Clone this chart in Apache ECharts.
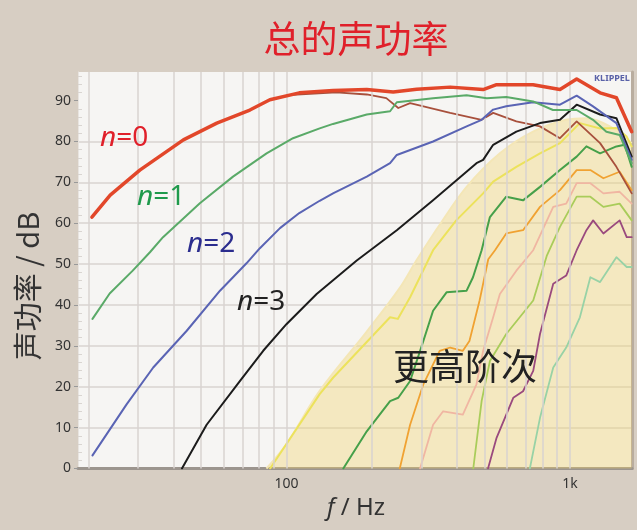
<!DOCTYPE html>
<html>
<head>
<meta charset="utf-8">
<script src="https://cdn.jsdelivr.net/npm/echarts@6/dist/echarts.min.js"></script>
<style>
  html, body { margin: 0; padding: 0; background: #d7cec3; }
  #c { width: 637px; height: 530px; }
</style>
</head>
<body>
<div id="c"></div>
<script>
// Sound power (dB) versus frequency (Hz), one curve per order n. Pairs are [Hz, dB].
const orderN0 = [[20.6,61.5],[23.9,66.9],[30.4,73.0],[43.3,80.4],[56.8,84.5],[74.3,87.7],[87.4,90.2],[111,91.9],[146,92.5],[192,92.7],[238,92.1],[288,92.8],[378,93.3],[494,92.7],[551,93.9],[741,93.9],[922,92.7],[1056,95.3],[1277,91.9],[1458,90.7],[1651,82.4]];
const orderN1 = [[20.7,36.6],[23.8,42.8],[28.7,48.4],[33,52.9],[36.7,56.6],[49.5,64.9],[64.8,71.4],[85.1,77.1],[105.5,80.8],[131,83.2],[146,84.3],[192,86.6],[232,87.4],[245,89.6],[329,90.6],[432,91.3],[509,90.6],[596,90.9],[741,89.8],[871,87.7],[1056,87.7],[1206,85.3],[1344,82.4],[1497,81.6],[1651,74.7]];
const orderN2 = [[20.7,3.2],[27.3,15.7],[33.9,24.7],[44.5,33.7],[58.3,43.5],[72.3,50.2],[80.6,53.9],[94.9,58.8],[111,62.5],[131,65.5],[146,67.3],[192,71.4],[232,74.7],[245,76.7],[329,80.0],[432,83.7],[488,85.3],[536,87.8],[596,88.6],[741,89.6],[922,89.0],[1056,91.2],[1206,88.6],[1458,84.5],[1651,75.5]];
const orderN3 = [[42.8,0],[52.3,10.7],[68.5,21.4],[82.8,28.8],[100,35.3],[127.8,42.7],[177,50.9],[245,58.3],[329,65.6],[468,74.7],[494,75.5],[536,79.2],[647,82.4],[784,84.5],[922,85.3],[1056,89.0],[1277,86.6],[1458,85.7],[1651,76.3]];
const brownCurve = [[105,91.4],[150,92.0],[192,91.5],[225,90.6],[248,88.2],[273,89.4],[378,87.0],[488,85.3],[536,87.0],[647,84.9],[784,83.7],[922,80.8],[1056,84.9],[1277,79.6],[1458,73.8],[1651,67.3]];
const yellowCurve = [[87.6,0],[131,18.2],[146,22.2],[232,37.0],[247,36.6],[273,41.9],[329,53.4],[397,60.7],[494,67.3],[536,70.2],[647,73.8],[784,77.1],[922,79.6],[1083,84.5],[1277,83.2],[1458,83.3],[1585,81.2],[1651,78.8]];
const darkGreenCurve = [[158.7,0],[192,9.1],[232,16.5],[248,17.3],[273,21.4],[304,31.2],[329,38.6],[367,43.1],[432,43.5],[455,46.8],[488,53.4],[522,61.5],[596,66.5],[683,65.6],[784,68.9],[922,73.0],[1056,76.3],[1143,78.8],[1277,77.1],[1458,78.8],[1560,79.2],[1651,73.8]];
const orangeCurve = [[251,0],[273,10.7],[304,20.6],[347,28.8],[378,29.6],[419,28.8],[442,31.2],[480,41.1],[515,51.2],[544,53.4],[596,57.5],[683,58.3],[784,64.0],[922,68.1],[1056,73.0],[1180,73.0],[1312,71.0],[1497,72.6],[1651,68.1]];
const pinkCurve = [[296,0],[329,10.7],[357,14.0],[419,13.2],[468,20.6],[494,28.8],[536,37.0],[566,42.7],[647,48.4],[742,53.4],[873,64.0],[970,64.8],[1056,69.8],[1180,69.8],[1312,67.3],[1497,67.7],[1651,64.8]];
const limeCurve = [[456,0],[488,16.5],[522,26.3],[596,32.9],[665,37.0],[742,41.1],[828,52.0],[922,59.1],[1056,66.5],[1180,66.5],[1312,64.0],[1497,64.8],[1651,60.7]];
const purpleCurve = [[514,0],[551,7.5],[631,17.3],[683,18.9],[742,23.9],[784,32.9],[873,45.2],[970,47.2],[1056,53.4],[1143,58.3],[1207,60.7],[1312,57.5],[1497,60.7],[1585,56.6],[1651,56.6]];
const tealCurve = [[722,0],[784,12.4],[873,24.7],[970,29.6],[1084,37.0],[1180,46.8],[1277,45.6],[1458,51.7],[1585,49.3],[1651,49.3]];
// Upper envelope of all higher orders (shaded region)
const higherEnvelope = [[85,0],[100,6],[131,19],[192,33.5],[250,44],[288,51],[350,60],[432,68.9],[566,77.1],[741,82.4],[969,85.3],[1143,85.7],[1383,83.7],[1651,79.6]];

// Axis ticks and grid positions
const yTicks = [0,10,20,30,40,50,60,70,80,90];
const xGridFreqs = [20,30,40,50,60,70,80,90,100,200,300,400,500,600,700,800,900,1000];
const xLabelText = { 100: '100', 1000: '1k' };

const gridColor = '#d9d3d1';
const labelFont = 'Noto Sans';
const cjkFont = '"Noto Sans CJK SC", "Noto Sans", sans-serif';

function curve(data, color, width, z) {
  return {
    type: 'line', data: data, showSymbol: false, symbol: 'none',
    lineStyle: { color: color, width: width, join: 'round', cap: 'round' },
    z: z, silent: true, animation: false, clip: true
  };
}

const chart = echarts.init(document.getElementById('c'), null, { renderer: 'canvas' });

chart.setOption({
  backgroundColor: '#d7cec3',
  animation: false,
  grid: {
    left: 78, right: 5, top: 72, bottom: 61.5,
    show: true, backgroundColor: '#f6f5f3', borderWidth: 0
  },
  xAxis: {
    type: 'log', logBase: 10, min: 18.4, max: 1655,
    axisLine: { show: true, onZero: false, lineStyle: { color: '#9c958e', width: 3 } },
    axisTick: { show: false },
    splitLine: { show: false },
    minorSplitLine: { show: false },
    axisLabel: {
      show: true, margin: 9, color: '#333', fontSize: 14, fontFamily: labelFont,
      showMinLabel: false, showMaxLabel: false,
      formatter: function (v) {
        const r = Math.round(v);
        return xLabelText[r] !== undefined && Math.abs(v - r) < 0.5 ? xLabelText[r] : '';
      }
    }
  },
  yAxis: [
    {
      type: 'value', min: 0, max: 97, interval: 10,
      axisLine: { show: false },
      axisTick: { show: true, length: 4, customValues: yTicks, lineStyle: { color: '#999' } },
      axisLabel: { color: '#333', fontSize: 14, fontFamily: labelFont, margin: 7, customValues: yTicks },
      splitLine: { show: true, showMaxLine: false, lineStyle: { color: gridColor, width: 1.5 } }
    },
    {
      type: 'value', min: 0, max: 97, interval: 10, position: 'left',
      axisLine: { show: true, lineStyle: { color: '#e8e4e0', width: 1 } },
      axisTick: { show: false, inside: true },
      minorTick: { show: true, splitNumber: 5, length: 4, lineStyle: { color: '#d9d5d1' } },
      axisLabel: { show: false }, splitLine: { show: false }
    },
    {
      type: 'value', min: 0, max: 97, position: 'right',
      axisLine: { show: true, lineStyle: { color: '#b9ad9f', width: 3 } },
      axisTick: { show: false }, axisLabel: { show: false }, splitLine: { show: false }
    }
  ],
  series: [
    {
      type: 'line', data: [], z: 1, silent: true,
      markLine: {
        silent: true, symbol: ['none', 'none'], animation: false,
        label: { show: false },
        lineStyle: { color: gridColor, width: 1.5, type: 'solid' },
        emphasis: { disabled: true },
        data: xGridFreqs.map(f => ({ xAxis: f }))
      }
    },
    {
      type: 'line', data: higherEnvelope, smooth: 0.35, showSymbol: false, symbol: 'none',
      lineStyle: { color: '#f4e6b6', width: 2 },
      areaStyle: { color: 'rgba(241,210,105,0.52)', origin: 'start' },
      z: 2, silent: true
    },
    curve(tealCurve, '#98d2a6', 1.8, 3),
    curve(purpleCurve, '#9a4a7e', 1.8, 3),
    curve(limeCurve, '#a9cc5a', 1.8, 3),
    curve(pinkCurve, '#f0b6a2', 1.8, 3),
    curve(orangeCurve, '#f0a232', 1.8, 3),
    curve(darkGreenCurve, '#46a04a', 2, 3),
    curve(yellowCurve, '#ece25c', 2, 3),
    curve(brownCurve, '#a8503c', 1.8, 4),
    curve(orderN3, '#1c1c1c', 2, 5),
    curve(orderN2, '#5a64b4', 2, 5),
    curve(orderN1, '#5aaa68', 2, 5),
    curve(orderN0, '#e2472a', 3.5, 6)
  ],
  graphic: [
    { type: 'text', x: 356, y: 39, z: 10, silent: true,
      style: { text: '总的声功率', fill: '#e0202a', fontSize: 37, fontFamily: cjkFont, align: 'center', verticalAlign: 'middle' } },
    { type: 'text', x: 28, y: 286, rotation: Math.PI / 2, z: 10, silent: true,
      style: { text: '声功率 / dB', fill: '#333', fontSize: 29, fontFamily: cjkFont, align: 'center', verticalAlign: 'middle' } },
    { type: 'text', x: 356, y: 508, z: 10, silent: true,
      style: { text: '{i|f} / Hz', fill: '#333', fontSize: 24, fontFamily: labelFont, align: 'center', verticalAlign: 'middle',
        rich: { i: { fontStyle: 'italic', fontSize: 24, fontFamily: labelFont, fill: '#333' } } } },
    { type: 'text', x: 465, y: 366, z: 10, silent: true,
      style: { text: '更高阶次', fill: '#222', fontSize: 36, fontFamily: cjkFont, align: 'center', verticalAlign: 'middle' } },
    { type: 'text', x: 612, y: 78, z: 10, silent: true,
      style: { text: 'KLIPPEL', fill: '#5a62a8', fontSize: 9, fontWeight: 'bold', fontFamily: labelFont, align: 'center', verticalAlign: 'middle' } },
    { type: 'text', x: 100, y: 138, z: 10, silent: true,
      style: { text: '{i|n}=0', fill: '#e0202a', fontSize: 28, fontFamily: labelFont, verticalAlign: 'middle',
        rich: { i: { fontStyle: 'italic', fontSize: 28, fontFamily: labelFont, fill: '#e0202a' } } } },
    { type: 'text', x: 137, y: 197, z: 10, silent: true,
      style: { text: '{i|n}=1', fill: '#1f9a4c', fontSize: 28, fontFamily: labelFont, verticalAlign: 'middle',
        rich: { i: { fontStyle: 'italic', fontSize: 28, fontFamily: labelFont, fill: '#1f9a4c' } } } },
    { type: 'text', x: 187, y: 244, z: 10, silent: true,
      style: { text: '{i|n}=2', fill: '#2b2d8e', fontSize: 28, fontFamily: labelFont, verticalAlign: 'middle',
        rich: { i: { fontStyle: 'italic', fontSize: 28, fontFamily: labelFont, fill: '#2b2d8e' } } } },
    { type: 'text', x: 237, y: 302, z: 10, silent: true,
      style: { text: '{i|n}=3', fill: '#222', fontSize: 28, fontFamily: labelFont, verticalAlign: 'middle',
        rich: { i: { fontStyle: 'italic', fontSize: 28, fontFamily: labelFont, fill: '#222' } } } }
  ]
});
</script>
</body>
</html>
